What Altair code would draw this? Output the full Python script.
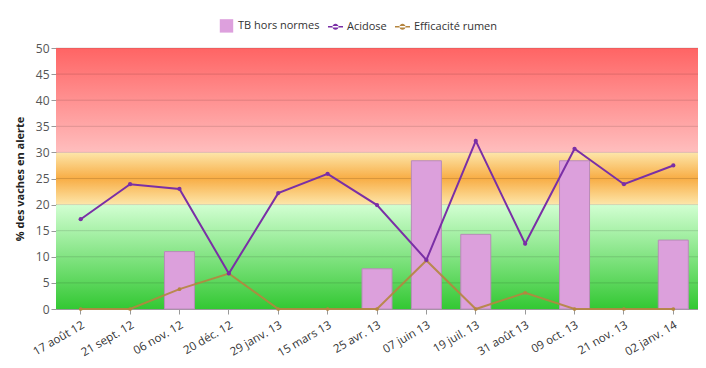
import altair as alt
import pandas as pd

dates = ["17 août 12", "21 sept. 12", "06 nov. 12", "20 déc. 12", "29 janv. 13",
         "15 mars 13", "25 avr. 13", "07 juin 13", "19 juil. 13", "31 août 13",
         "09 oct. 13", "21 nov. 13", "02 janv. 14"]
tb_hors_normes = [None, None, 11.0, None, None, None, 7.7, 28.4, 14.3, None, 28.4, None, 13.2]
acidose = [17.2, 23.9, 23.0, 6.8, 22.2, 25.9, 19.9, 9.4, 32.2, 12.5, 30.7, 23.9, 27.5]
efficacite = [0, 0, 3.8, 6.8, 0, 0, 0, 9.3, 0, 3.1, 0, 0, 0]

series_names = ["TB hors normes", "Acidose", "Efficacité rumen"]
series_colors = ["#dda0dd", "#7a2fa6", "#b5853f"]

y_ticks = [0, 5, 10, 15, 20, 25, 30, 35, 40, 45, 50]
zones = [(0, 20), (20, 30), (30, 50)]

W, H = 642, 261

df = pd.DataFrame({"date": dates, "tb": tb_hors_normes, "acidose": acidose, "eff": efficacite})

x_enc = alt.X("date:N", sort=dates, scale=alt.Scale(domain=dates, paddingInner=0, paddingOuter=0),
              axis=alt.Axis(title=None, labelAngle=-30, labelAlign="right", labelBaseline="top",
                            labelFontSize=11.5, labelColor="#333", labelFont="Open Sans",
                            domainColor="#999", tickColor="#999", tickSize=5, labelPadding=5,
                            labelOverlap=False))
y_scale = alt.Scale(domain=[0, 50], nice=False)
y_axis = alt.Axis(values=y_ticks, title="% des vaches en alerte", titleFontWeight="bold",
                  titleFontSize=11, titleFont="Open Sans", titleColor="#222", titlePadding=10,
                  labelFontSize=12, labelColor="#555", labelFont="Open Sans", grid=False,
                  domainColor="#999", tickColor="#999", tickSize=5, labelOverlap=False)


def yq(field):
    return alt.Y(field, scale=y_scale, axis=y_axis)


def grad(stops):
    return alt.LinearGradient(gradient="linear", x1=0, x2=0, y1=0, y2=1,
                              stops=[alt.GradientStop(offset=o, color=c) for o, c in stops])


zone_grads = [
    grad([(0, "#d2ffd2"), (1, "#33c833")]),
    grad([(0, "#fde6aa"), (0.5, "#f8ad45"), (1, "#fde6aa")]),
    grad([(0, "#ff6464"), (1, "#ffbebe")]),
]

layers = []
for (lo, hi), g in zip(zones, zone_grads):
    zdf = pd.DataFrame({"lo": [lo], "hi": [hi]})
    layers.append(alt.Chart(zdf).mark_rect(color=g).encode(
        x=alt.value(0), x2=alt.value(W), y=yq("lo:Q"), y2="hi:Q"))

grid_df = pd.DataFrame({"v": y_ticks[1:]})
layers.append(alt.Chart(grid_df).mark_rule(color="#000", opacity=0.13, strokeWidth=1).encode(
    y=yq("v:Q"), x=alt.value(0), x2=alt.value(W)))

base = alt.Chart(df)
layers.append(base.mark_bar(size=30, color="#dca0dc", stroke="#b88cb8", strokeWidth=1).encode(
    x=x_enc, y=yq("tb:Q")))
layers.append(base.mark_line(color="#b5853f", strokeWidth=2, opacity=0.9).encode(
    x=x_enc, y=yq("eff:Q")))
layers.append(base.mark_point(filled=True, color="#b5853f", size=14, opacity=1).encode(
    x=x_enc, y=yq("eff:Q")))
layers.append(base.mark_line(color="#7a2fa6", strokeWidth=2).encode(
    x=x_enc, y=yq("acidose:Q")))
layers.append(base.mark_point(filled=True, color="#7a2fa6", size=18, opacity=1).encode(
    x=x_enc, y=yq("acidose:Q")))

line_dot = ("M-1.12,-0.13L1.12,-0.13L1.12,0.13L-1.12,0.13Z "
            "M-0.45,0A0.45,0.45 0 1,0 0.45,0A0.45,0.45 0 1,0 -0.45,0Z")
leg_df = pd.DataFrame({"s": series_names, "date": [dates[0]] * 3, "v": [0, 0, 0]})
layers.append(alt.Chart(leg_df).mark_point(filled=True, opacity=0).encode(
    x=x_enc,
    y=yq("v:Q"),
    color=alt.Color("s:N", scale=alt.Scale(domain=series_names, range=series_colors),
                    legend=alt.Legend(title=None, orient="none", direction="horizontal",
                                      legendX=163, legendY=-30, symbolOpacity=1,
                                      labelFontSize=11, labelFont="Open Sans", labelColor="#333",
                                      symbolSize=180, columnPadding=7, labelOffset=4)),
    shape=alt.Shape("s:N", scale=alt.Scale(domain=series_names, range=["square", line_dot, line_dot]),
                    legend=None)))

chart = alt.layer(*layers).properties(
    width=W, height=H,
    autosize=alt.AutoSizeParams(type="none"),
    padding={"left": 48, "top": 40, "right": 0, "bottom": 56},
).configure_view(stroke=None).configure_axisY(labelOverlap=False).configure(background="white")

chart.save("out.html", embed_options={"renderer": "svg", "actions": False})
